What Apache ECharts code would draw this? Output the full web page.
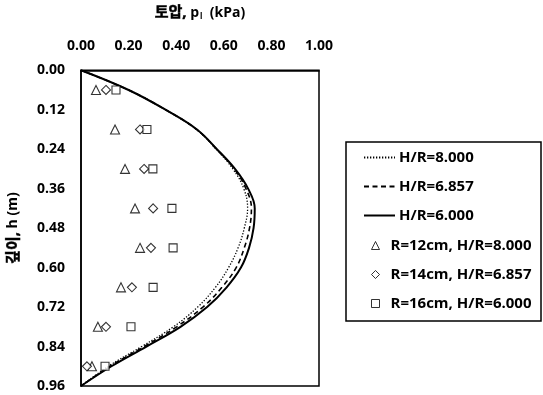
<!DOCTYPE html>
<html>
<head>
<meta charset="utf-8">
<script src="https://cdn.jsdelivr.net/npm/echarts@6/dist/echarts.min.js"></script>
<style>html,body{margin:0;padding:0;background:#fff;}#c{width:543px;height:395px;}</style>
</head>
<body>
<div id="c"></div>
<script>
// Depth values (m) for theoretical curves
const depth = [0, 0.06, 0.12, 0.18, 0.24, 0.30, 0.36, 0.42, 0.48, 0.54, 0.60, 0.66, 0.72, 0.78, 0.84, 0.90, 0.96];
// Theoretical earth pressure (kPa)
const pHR8000 = [0, 0.200, 0.355, 0.485, 0.568, 0.638, 0.684, 0.700, 0.686, 0.660, 0.620, 0.565, 0.490, 0.388, 0.255, 0.115, 0];
const pHR6857 = [0, 0.200, 0.355, 0.486, 0.570, 0.644, 0.693, 0.716, 0.708, 0.686, 0.652, 0.592, 0.512, 0.402, 0.265, 0.122, 0];
const pHR6000 = [0, 0.200, 0.355, 0.487, 0.571, 0.647, 0.702, 0.730, 0.725, 0.706, 0.672, 0.612, 0.530, 0.418, 0.275, 0.128, 0];
// Experimental data
const expDepth = [0.06, 0.18, 0.30, 0.42, 0.54, 0.66, 0.78, 0.90];
const expR12 = [0.063, 0.143, 0.185, 0.227, 0.248, 0.168, 0.071, 0.046];
const expR14 = [0.105, 0.248, 0.265, 0.303, 0.294, 0.214, 0.105, 0.025];
const expR16 = [0.147, 0.277, 0.302, 0.382, 0.387, 0.303, 0.210, 0.101];
// Axis ticks
const xTicks = {min: 0, max: 1.0, step: 0.2};
const yTicks = {min: 0, max: 0.96, step: 0.12};
const names = ['H/R=8.000', 'H/R=6.857', 'H/R=6.000', 'R=12cm, H/R=8.000', 'R=14cm, H/R=6.857', 'R=16cm, H/R=6.000'];

const FONT = "'Open Sans', 'Noto Sans CJK KR', sans-serif";
const pairs = (xs, ys) => xs.map((x, i) => [x, ys[i]]);

const chart = echarts.init(document.getElementById('c'));
const lineBase = {type: 'line', smooth: 0.4, smoothConstraint: false, symbol: 'none', showSymbol: false, silent: true, z: 3};
const scatBase = {type: 'scatter', symbolSize: 9, silent: true, z: 4,
  itemStyle: {color: '#fff', borderColor: '#000', borderWidth: 1.1}};
const boldFake = {textBorderColor: '#000', textBorderWidth: 0.5};
chart.setOption({
  animation: false,
  backgroundColor: '#fff',
  textStyle: {fontFamily: FONT},
  grid: {left: 81, right: 224, top: 70, bottom: 9, show: true, borderColor: '#000', borderWidth: 1.5, backgroundColor: 'transparent'},
  xAxis: {
    type: 'value', position: 'top', min: xTicks.min, max: xTicks.max, interval: xTicks.step,
    axisLine: {show: true, lineStyle: {color: '#000', width: 1.5}},
    axisTick: {show: false}, splitLine: {show: false},
    axisLabel: {margin: 17, color: '#000', fontSize: 14, fontWeight: 'bold', fontFamily: FONT, formatter: v => v.toFixed(2)},
    name: '{k|토압,}{a| p}{s|l}{a|  (kPa)}', nameLocation: 'middle', nameGap: 50,
    nameTextStyle: {rich: {
      k: Object.assign({fontSize: 15, fontWeight: 'bold', color: '#000', fontFamily: FONT}, boldFake),
      a: {fontSize: 14, fontWeight: 'bold', color: '#000', fontFamily: FONT},
      s: {fontSize: 8, fontWeight: 'bold', color: '#000', fontFamily: FONT, verticalAlign: 'bottom', padding: [6, 0, 0, 1]}
    }}
  },
  yAxis: {
    type: 'value', inverse: true, min: yTicks.min, max: yTicks.max, interval: yTicks.step,
    axisLine: {show: true, lineStyle: {color: '#000', width: 1.5}},
    axisTick: {show: false}, splitLine: {show: false},
    axisLabel: {margin: 16, color: '#000', fontSize: 14, fontWeight: 'bold', fontFamily: FONT, formatter: v => v.toFixed(2)},
    name: '{k|깊이,}{a| h (m)}', nameLocation: 'middle', nameGap: 60, nameRotate: 90,
    nameTextStyle: {rich: {
      k: Object.assign({fontSize: 15, fontWeight: 'bold', color: '#000', fontFamily: FONT}, boldFake),
      a: {fontSize: 14, fontWeight: 'bold', color: '#000', fontFamily: FONT}
    }}
  },
  legend: [
    {data: names.slice(0, 3), orient: 'vertical', left: 363, top: 150, padding: 0,
     itemWidth: 31, itemHeight: 14, itemGap: 14, selectedMode: false,
     itemStyle: {color: 'transparent', borderColor: 'transparent', borderWidth: 0, opacity: 0},
     textStyle: {fontSize: 15, fontWeight: 'bold', color: '#000', fontFamily: FONT, lineHeight: 15, padding: [0, 0, 0, -1]}},
    {data: names.slice(3), orient: 'vertical', left: 371, top: 238, padding: 0,
     itemWidth: 8, itemHeight: 8, itemGap: 14, selectedMode: false,
     itemStyle: {color: '#fff', borderColor: '#000', borderWidth: 1},
     textStyle: {fontSize: 15, fontWeight: 'bold', color: '#000', fontFamily: FONT, lineHeight: 15, padding: [0, 0, 0, 6]}}
  ],
  graphic: [{type: 'rect', shape: {x: 346, y: 142, width: 195, height: 179},
    style: {fill: 'none', stroke: '#000', lineWidth: 1.5}, silent: true}],
  series: [
    Object.assign({}, lineBase, {name: names[0], data: pairs(pHR8000, depth), lineStyle: {color: '#000', width: 1.3, type: [1.3, 1.7]}, itemStyle: {color: '#000'}}),
    Object.assign({}, lineBase, {name: names[1], data: pairs(pHR6857, depth), lineStyle: {color: '#000', width: 1.6, type: [5, 3.5]}, itemStyle: {color: '#000'}}),
    Object.assign({}, lineBase, {name: names[2], data: pairs(pHR6000, depth), lineStyle: {color: '#000', width: 2}, itemStyle: {color: '#000'}}),
    Object.assign({}, scatBase, {name: names[3], symbol: 'triangle', data: pairs(expR12, expDepth)}),
    Object.assign({}, scatBase, {name: names[4], symbol: 'diamond', data: pairs(expR14, expDepth)}),
    Object.assign({}, scatBase, {name: names[5], symbol: 'rect', symbolSize: 8, data: pairs(expR16, expDepth)})
  ]
});
</script>
</body>
</html>
